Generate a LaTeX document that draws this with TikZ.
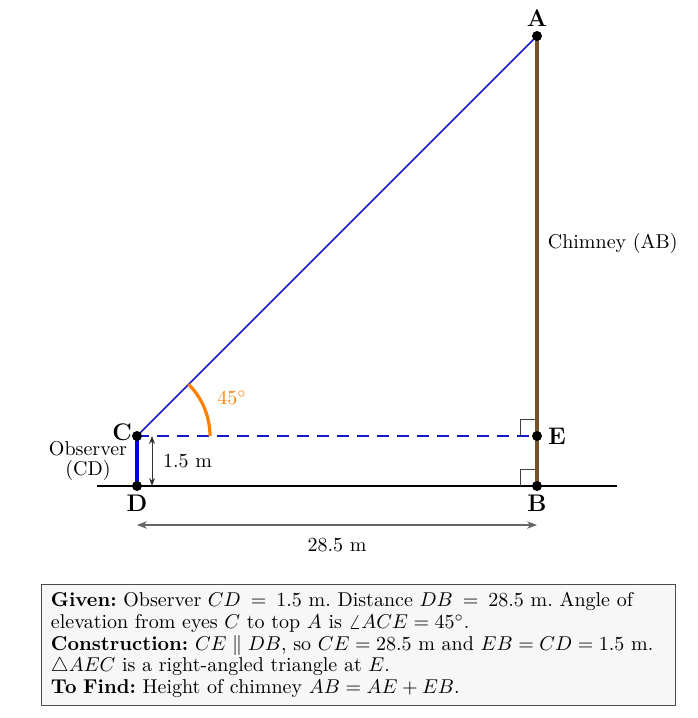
\documentclass[tikz,border=0pt]{standalone}
\usetikzlibrary{calc, arrows.meta}
\definecolor{chimneybrown}{RGB}{120,82,45}
\definecolor{sightblue}{RGB}{25,25,200}
\tikzset{
  pt/.style={circle, fill=black, inner sep=0pt, minimum size=5pt},
  ptlabel/.style={font=\large\bfseries},
  rightmark/.style={black!75, thin},
  dimline/.style={{Stealth[length=5pt]}-{Stealth[length=5pt]}, black!60, semithick}
}
\begin{document}
\begin{tikzpicture}[x=25pt, y=25pt]
      \useasboundingbox (-2.74, -4.64) rectangle (11.2, 9.72);
      \coordinate (D) at (0, 0);
      \coordinate (B) at (8, 0);
      \coordinate (C) at (0, 1);
      \coordinate (E) at (8, 1);
      \coordinate (A) at (8, 9);
      \coordinate (gl) at (-0.8, 0);
      \coordinate (gr) at (9.6, 0);
      % ground and lines
      \draw [thick] (gl) -- (gr);
      \draw [sightblue, thick] (C) -- (A);
      \draw [sightblue, thick, dashed, dash pattern=on 6pt off 4pt] (C) -- (E);
      \draw [blue!85!black, line width=1.8pt] (D) -- (C);
      \draw [rightmark] ($(E)+(-0.33,0)$) -- ++(0, 0.33) -- ++(0.33, 0)
                        ($(B)+(-0.33,0)$) -- ++(0, 0.33) -- ++(0.33, 0);
      \draw [chimneybrown, line width=2.2pt] (B) -- (A)
            node (chimney) [pos=.54, right, black, xshift=1pt] {Chimney (AB)};
      % angle of elevation
      \draw [orange, line width=1.6pt] ($(C)+(1.46,0)$) arc [start angle=0, end angle=45, radius=1.46];
      \node (ang) [orange] at ($(C)+(1.9,0.76)$) {$45^\circ$};
      % measurements
      \coordinate (hb) at (0.3, 0);
      \coordinate (ht) at (0.3, 1);
      \draw [{Stealth[length=4pt]}-{Stealth[length=4pt]}, black!80, thin] (hb) -- (ht)
            node (hlab) [midway, right, xshift=2pt, black] {1.5 m};
      \coordinate (dl) at (0, -0.78);
      \coordinate (dr) at (8, -0.78);
      \draw [dimline] (dl) -- (dr) node (dlab) [midway, below, black, yshift=-3pt] {28.5 m};
      % points and labels
      \foreach \p in {A, B, C, D, E}
        \node [pt] (\p dot) at (\p) {};
      \node (Alab) [ptlabel, above=1pt] at (A) {A};
      \node (Blab) [ptlabel, below=1pt] at (B) {B};
      \node (Clab) [ptlabel, left=-1pt, yshift=2pt] at (C) {C};
      \node (Dlab) [ptlabel, below=1pt] at (D) {D};
      \node (Elab) [ptlabel, right=2pt] at (E) {E};
      \node (obs) [align=center] at (-0.98, 0.5) {Observer\\[-2pt](CD)};
      % summary box
      \node (info) [draw=black!70, fill=black!3, text width=307pt, inner xsep=5pt, inner ysep=4pt,
                    align=left, font=\fontsize{10}{10.8}\selectfont\frenchspacing]
            at (4.42, -3.18)
            {\textbf{Given:} Observer $CD = 1.5$ m. Distance $DB = 28.5$ m. Angle of elevation from eyes $C$ to top $A$ is $\angle ACE = 45^\circ$.\\
             \textbf{Construction:} $CE \parallel DB$, so $CE = 28.5$ m and $EB = CD = 1.5$ m.\\
             $\triangle AEC$ is a right-angled triangle at $E$.\\
             \textbf{To Find:} Height of chimney $AB = AE + EB$.\par\vspace{-6pt}};
\end{tikzpicture}
\end{document}
